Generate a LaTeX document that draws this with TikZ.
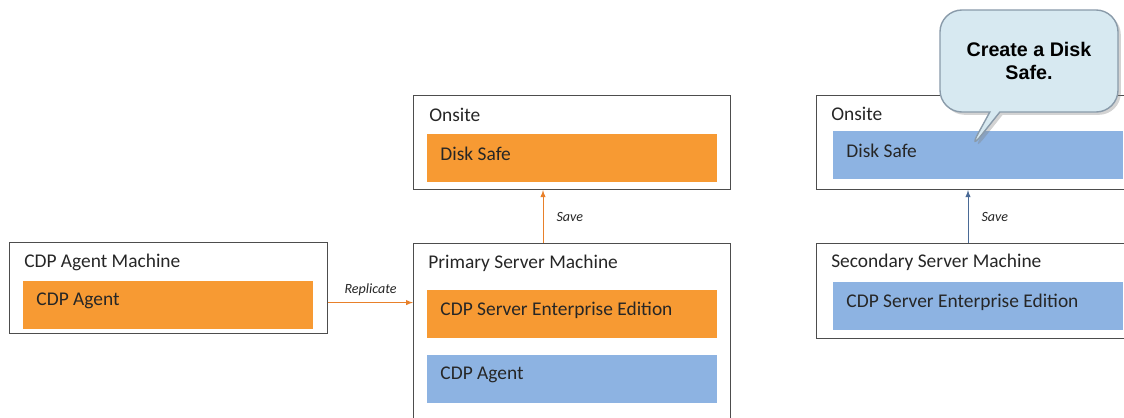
\documentclass[tikz,border=0pt]{standalone}
\usepackage{fontspec}
\setmainfont{Carlito}
\newfontfamily\calloutfont{Liberation Sans}
\usetikzlibrary{shapes.callouts,shadows}
\definecolor{partorange}{HTML}{F79A33}
\definecolor{partblue}{HTML}{8DB3E2}
\definecolor{lineorange}{HTML}{E8802A}
\definecolor{lineblue}{HTML}{4A6A96}
\definecolor{tipfill}{HTML}{D7E9F1}
\definecolor{tipdraw}{HTML}{8A9BAA}
\definecolor{framegray}{HTML}{4D4D4D}
\definecolor{inktext}{HTML}{262626}
\begin{document}
\begin{tikzpicture}[x=0.025cm,y=-0.025cm,
  machine/.style={draw=framegray,line width=0.8pt,anchor=north west,inner sep=0pt},
  title/.style={anchor=west,inner sep=0pt,font=\fontsize{13.8}{16}\selectfont,text=inktext},
  part/.style={anchor=north west,minimum width=7.25cm,minimum height=1.2cm,inner sep=0pt},
  parttext/.style={anchor=west,inner sep=0pt,xshift=0.33cm,yshift=0.1cm,
    font=\fontsize{13.8}{16}\selectfont,text=inktext},
  flow/.style={-latex,line width=0.7pt},
  flowlabel/.style={font=\fontsize{10}{12}\selectfont\itshape,text=inktext}]
\useasboundingbox (0,0) rectangle (1124,417);
%
% agent side
\node[machine,minimum width=7.95cm,minimum height=2.275cm] (agentbox) at (9,242) {};
\node[title] (agenttitle) at (24,262) {CDP Agent Machine};
\node[part,fill=partorange,label={[parttext]west:CDP Agent}] (agentpart) at (23,281) {};
%
% primary side
\node[machine,minimum width=7.925cm,minimum height=2.35cm] (onsiteA) at (413,95) {};
\node[title] (onsiteAtitle) at (429,115) {Onsite};
\node[part,fill=partorange,label={[parttext]west:Disk Safe}] (safeA) at (427,134) {};
\node[machine,minimum width=7.925cm,minimum height=4.7cm] (primarybox) at (413,243) {};
\node[title] (primarytitle) at (428,263) {Primary Server Machine};
\node[part,fill=partorange,label={[parttext]west:CDP Server Enterprise Edition}] (serverA) at (427,290) {};
\node[part,fill=partblue,label={[parttext]west:CDP Agent}] (agentA) at (427,355) {};
%
% secondary side
\node[machine,minimum width=8cm,minimum height=2.35cm] (onsiteB) at (816,95) {};
\node[title] (onsiteBtitle) at (831,114) {Onsite};
\node[part,fill=partblue,label={[parttext]west:Disk Safe}] (safeB) at (833,131) {};
\node[machine,minimum width=8cm,minimum height=2.375cm] (secondarybox) at (816,243) {};
\node[title] (secondarytitle) at (831,262) {Secondary Server Machine};
\node[part,fill=partblue,label={[parttext]west:CDP Server Enterprise Edition}] (serverB) at (833,282) {};
%
% connectors
\draw[flow,lineorange] (agentbox.east) ++(0,14.5) coordinate (rep) -- (rep -| primarybox.west)
  node[flowlabel,midway,above=1pt] {Replicate};
\draw[flow,lineorange] (primarybox.north west) ++(130,0) coordinate (saveA) -- (saveA |- onsiteA.south)
  node[flowlabel,midway,right=6pt] {Save};
\draw[flow,lineblue] (secondarybox.north west) ++(152,0) coordinate (saveB) -- (saveB |- onsiteB.south)
  node[flowlabel,midway,right=6pt] {Save};
%
% callout
\node[rectangle callout,callout absolute pointer={(968,152)},draw=tipdraw,line width=1pt,fill=tipfill,
  rounded corners=0.55cm,minimum width=4.45cm,minimum height=2.55cm,align=center,
  drop shadow={shadow xshift=2pt,shadow yshift=-2pt,opacity=0.35},
  font=\calloutfont\bfseries\fontsize{14}{17}\selectfont] (tip) at (1029,61) {Create a Disk\\Safe.};
\end{tikzpicture}
\end{document}
